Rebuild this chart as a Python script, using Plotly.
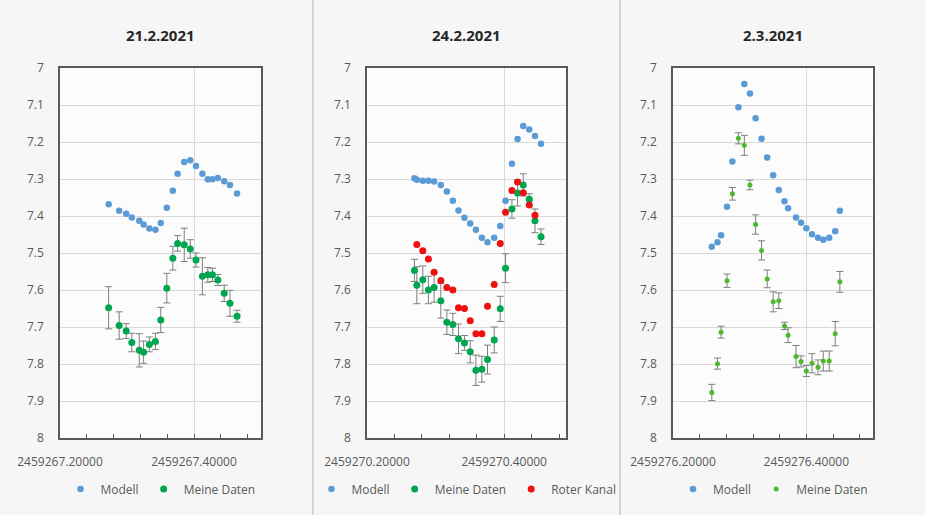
import plotly.graph_objects as go

# ---------------- data ----------------
titles = ["21.2.2021", "24.2.2021", "2.3.2021"]
bases = [2459267.0, 2459270.0, 2459276.0]

# Panel 1 (21.2.2021)
p1_x = [2459267.2726, 2459267.2883, 2459267.2988, 2459267.3072, 2459267.3183, 2459267.3248,
        2459267.3334, 2459267.3424, 2459267.3504, 2459267.3594, 2459267.3684, 2459267.3755,
        2459267.3854, 2459267.3944, 2459267.4030, 2459267.4125, 2459267.4206, 2459267.4275,
        2459267.4356, 2459267.4451, 2459267.4537, 2459267.4642]
p1_modell = [7.368, 7.386, 7.394, 7.404, 7.413, 7.423, 7.434, 7.437, 7.419, 7.378, 7.332,
             7.286, 7.254, 7.249, 7.265, 7.286, 7.301, 7.301, 7.297, 7.306, 7.316, 7.339]
p1_daten = [7.648, 7.696, 7.711, 7.742, 7.763, 7.768, 7.747, 7.739, 7.681, 7.595, 7.514,
            7.474, 7.478, 7.489, 7.519, 7.563, 7.559, 7.559, 7.573, 7.609, 7.636, 7.671]
p1_err = [0.057, 0.037, 0.020, 0.025, 0.045, 0.030, 0.020, 0.022, 0.034, 0.040, 0.032,
          0.021, 0.045, 0.025, 0.019, 0.050, 0.020, 0.018, 0.015, 0.022, 0.035, 0.016]

# Panel 2 (24.2.2021)
p2_x = [2459270.2691, 2459270.2726, 2459270.2813, 2459270.2895, 2459270.2978, 2459270.3076,
        2459270.3164, 2459270.3251, 2459270.3333, 2459270.3420, 2459270.3504, 2459270.3587,
        2459270.3674, 2459270.3756, 2459270.3854, 2459270.3942, 2459270.4019, 2459270.4112,
        2459270.4194, 2459270.4277, 2459270.4365, 2459270.4448, 2459270.4536]
p2_modell = [7.298, 7.302, 7.305, 7.305, 7.307, 7.316, 7.334, 7.359, 7.385, 7.405, 7.420,
             7.437, 7.459, 7.471, 7.459, 7.427, 7.359, 7.259, 7.192, 7.157, 7.166, 7.184, 7.205]
p2_daten = [7.547, 7.587, 7.572, 7.600, 7.593, 7.629, 7.687, 7.693, 7.732, 7.743, 7.767,
            7.817, 7.814, 7.788, 7.735, 7.651, 7.541, 7.381, 7.338, 7.316, 7.355, 7.413, 7.456]
p2_err = [0.030, 0.050, 0.037, 0.037, 0.040, 0.047, 0.033, 0.030, 0.040, 0.020, 0.030,
          0.041, 0.035, 0.039, 0.035, 0.034, 0.039, 0.025, 0.035, 0.030, 0.015, 0.032, 0.021]
p2_rot = [None, 7.477, 7.494, 7.516, 7.552, 7.574, 7.593, 7.600, 7.648, 7.650, 7.683,
          7.718, 7.718, 7.644, 7.585, 7.474, 7.390, 7.331, 7.308, 7.337, 7.370, 7.398, None]

# Panel 3 (2.3.2021)
p3_x = [2459276.2582, 2459276.2667, 2459276.2721, 2459276.2810, 2459276.2891, 2459276.2981,
        2459276.3070, 2459276.3154, 2459276.3239, 2459276.3328, 2459276.3413, 2459276.3503,
        2459276.3587, 2459276.3672, 2459276.3727, 2459276.3846, 2459276.3921, 2459276.4000,
        2459276.4085, 2459276.4175, 2459276.4254, 2459276.4343, 2459276.4433, 2459276.4503]
p3_modell = [7.483, 7.471, 7.452, 7.375, 7.253, 7.106, 7.043, 7.069, 7.136, 7.191, 7.242,
             7.290, 7.330, 7.360, 7.379, 7.404, 7.418, 7.433, 7.449, 7.459, 7.464, 7.459,
             7.441, 7.386]
p3_daten = [7.877, 7.799, 7.714, 7.575, 7.340, 7.190, 7.209, 7.316, 7.423, 7.493, 7.570,
            7.632, 7.629, 7.697, 7.722, 7.780, 7.793, 7.819, 7.798, 7.809, 7.792, 7.792,
            7.718, 7.578]
p3_err = [0.022, 0.015, 0.016, 0.018, 0.017, 0.015, 0.027, 0.013, 0.026, 0.026, 0.024,
          0.027, 0.021, 0.010, 0.020, 0.030, 0.015, 0.015, 0.026, 0.020, 0.027, 0.027,
          0.033, 0.028]

y_ticks = [7, 7.1, 7.2, 7.3, 7.4, 7.5, 7.6, 7.7, 7.8, 7.9, 8]
y_ticktext = ["7", "7.1", "7.2", "7.3", "7.4", "7.5", "7.6", "7.7", "7.8", "7.9", "8"]
x_tick_offsets = [0.2, 0.4]
x_range_offsets = [(0.2, 0.5), (0.2, 0.49), (0.2, 0.5)]

# ---------------- styles ----------------
W, H = 926, 515
BLUE = "#5b9bd5"
GREEN = "#00a550"
RED = "#ee1111"
GREEN3 = "#4cb82a"
ERR = "#7f7f7f"
TXT = "#595959"
FONT = "Open Sans"

x_dom_px = [(60, 261), (367, 566), (673, 873)]
y_top_px, y_bot_px = 68, 438

fig = go.Figure()

def err(vals, w=3.5):
    return dict(type="data", array=vals, visible=True, color=ERR, thickness=1, width=w)

panels = [
    (p1_x, p1_modell, p1_daten, p1_err, None, GREEN, 7),
    (p2_x, p2_modell, p2_daten, p2_err, p2_rot, GREEN, 7),
    (p3_x, p3_modell, p3_daten, p3_err, None, GREEN3, 5),
]

for i, (xs, mod, dat, e, rot, gcol, gsize) in enumerate(panels):
    n = i + 1
    xa = "x" if n == 1 else f"x{n}"
    ya = "y" if n == 1 else f"y{n}"
    lg = "legend" if n == 1 else f"legend{n}"
    fig.add_trace(go.Scatter(x=xs, y=mod, mode="markers", name="Modell",
                             marker=dict(color=BLUE, size=6.5), xaxis=xa, yaxis=ya, legend=lg))
    fig.add_trace(go.Scatter(x=xs, y=dat, mode="markers", name="Meine Daten",
                             marker=dict(color=gcol, size=gsize), error_y=err(e),
                             xaxis=xa, yaxis=ya, legend=lg))
    if rot is not None:
        fig.add_trace(go.Scatter(x=xs, y=rot, mode="markers", name="Roter Kanal",
                                 marker=dict(color=RED, size=7), xaxis=xa, yaxis=ya, legend=lg))

layout = dict(
    width=W, height=H, autosize=False,
    margin=dict(l=0, r=0, t=0, b=0, pad=0, autoexpand=False),
    paper_bgcolor="#f6f6f6", plot_bgcolor="#fcfcfc",
    font=dict(family=FONT, color=TXT, size=12),
    showlegend=True,
)

y0 = (H - y_bot_px) / H
y1 = (H - y_top_px) / H
annotations = []
shapes = []
for i in range(3):
    n = i + 1
    sx = "" if n == 1 else str(n)
    base = bases[i]
    lo, hi = x_range_offsets[i]
    d0, d1 = x_dom_px[i]
    layout[f"xaxis{sx}"] = dict(
        domain=[d0 / W, d1 / W], anchor=f"y{sx}", automargin=False,
        range=[base + lo, base + hi],
        tickmode="array", tickvals=[base + o for o in x_tick_offsets],
        ticktext=[f"{base + o:.5f}" for o in x_tick_offsets],
        ticks="inside", ticklen=4, tickcolor=TXT, tickwidth=1,
        ticklabelstandoff=12,
        showgrid=True, gridcolor="#d9d9d9", gridwidth=1,
        showline=True, linecolor=TXT, linewidth=1.5, mirror=True,
        zeroline=False, tickfont=dict(size=12, color=TXT),
        minor=dict(tickmode="linear", tick0=base + 0.2, dtick=0.04, ticks="inside",
                   ticklen=4, tickcolor=TXT, showgrid=False),
    )
    layout[f"yaxis{sx}"] = dict(
        domain=[y0, y1], anchor=f"x{sx}", automargin=False,
        range=[8, 7], tickmode="array", tickvals=y_ticks, ticktext=y_ticktext,
        ticks="", ticklabelstandoff=12,
        showgrid=True, gridcolor="#d9d9d9", gridwidth=1,
        showline=True, linecolor=TXT, linewidth=1.5, mirror=True,
        zeroline=False, tickfont=dict(size=12, color=TXT),
    )
    cx = (d0 + d1) / 2 / W
    lname = "legend" if n == 1 else f"legend{n}"
    layout[lname] = dict(orientation="h", x=cx, xanchor="center", y=(H - 489) / H,
                         yanchor="middle", bgcolor="rgba(0,0,0,0)",
                         font=dict(size=12, color=TXT), itemwidth=30, tracegroupgap=0)
    annotations.append(dict(text=f"<b>{titles[i]}</b>", x=cx, y=(H - 35) / H,
                            xref="paper", yref="paper", showarrow=False,
                            xanchor="center", yanchor="middle",
                            font=dict(size=15, color="#262626", family=FONT)))

for sx_px in (313, 620):
    shapes.append(dict(type="line", xref="paper", yref="paper",
                       x0=sx_px / W, x1=sx_px / W, y0=0, y1=1,
                       line=dict(color="#d4d4d4", width=2)))

layout["annotations"] = annotations
layout["shapes"] = shapes
fig.update_layout(**layout)

fig.write_html("out.html", config={"displayModeBar": False},
               post_script="document.body.style.margin='0';")
